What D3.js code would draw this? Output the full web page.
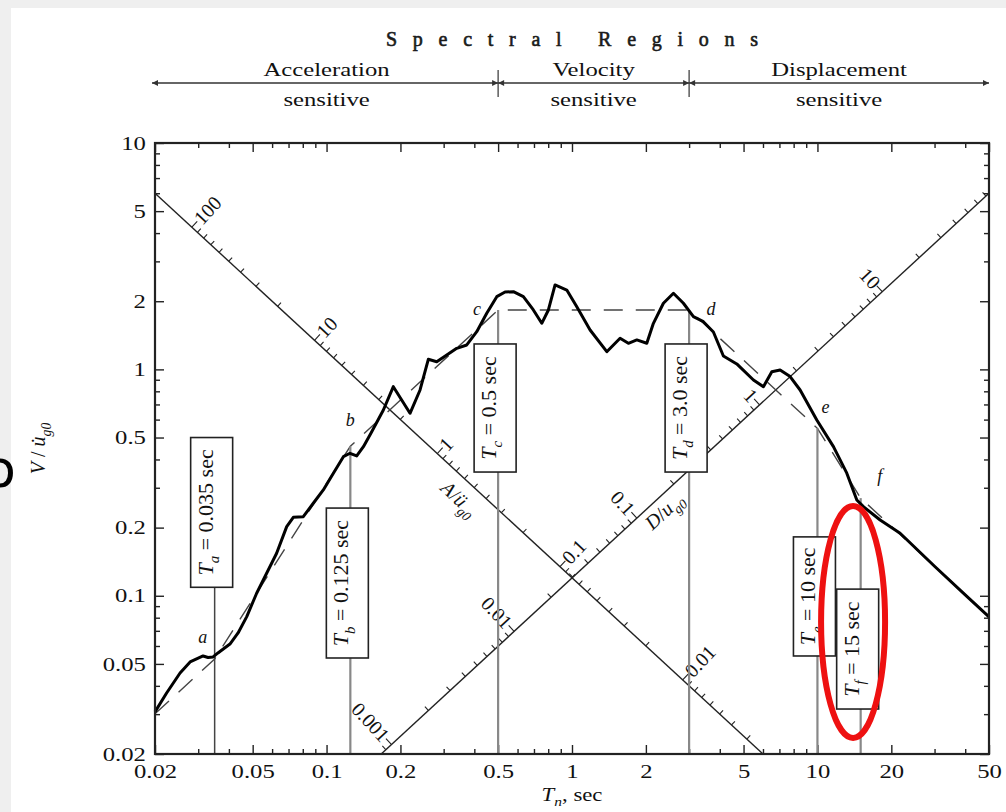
<!DOCTYPE html>
<html><head><meta charset="utf-8">
<script src="https://cdn.jsdelivr.net/npm/d3@7"></script>
<style>
html,body{margin:0;padding:0;background:#efefef;}
svg{display:block;}
text{font-family:"Liberation Serif","Times New Roman",serif;fill:#111;}
</style></head><body>
<svg id="chart" width="1006" height="812"></svg>
<script>
// ---------------- data ----------------
const periods = [0.020,0.0223,0.0253,0.0278,0.0314,0.0329,0.0345,0.0361,0.0404,0.0436,
  0.0473,0.0519,0.0570,0.0626,0.0688,0.0732,0.0804,0.0883,0.0970,0.1066,
  0.1171,0.1246,0.1327,0.1413,0.1518,0.1704,0.1871,0.2188,0.2404,0.2598,
  0.2811,0.3088,0.3392,0.3726,0.4092,0.4494,0.4937,0.5336,0.5770,0.6337,
  0.6960,0.7530,0.8014,0.8531,0.9522,1.046,1.185,1.386,1.570,1.697,
  1.837,2.017,2.146,2.357,2.590,2.844,3.124,3.430,3.768,4.138,
  4.692,5.486,6.024,6.518,7.046,7.738,8.500,9.940,11.62,13.17,
  14.47,15.39,18.01,21.72,30,40,50];
const velocities = [0.0307,0.0372,0.0456,0.0510,0.0542,0.0534,0.0537,0.0559,0.0612,0.0685,
  0.0809,0.1026,0.1257,0.1541,0.2020,0.2222,0.2236,0.2562,0.2934,0.3476,
  0.4115,0.4260,0.4145,0.4556,0.5236,0.6616,0.8387,0.6398,0.8110,1.108,
  1.081,1.158,1.239,1.282,1.467,1.769,2.095,2.197,2.204,2.095,
  1.830,1.598,1.830,2.360,2.242,1.892,1.493,1.197,1.372,1.304,
  1.349,1.304,1.598,1.959,2.168,1.959,1.709,1.624,1.463,1.146,
  1.057,0.898,0.839,0.977,0.994,0.929,0.811,0.598,0.456,0.348,
  0.265,0.2475,0.2162,0.1888,0.135,0.101,0.0806];

const idealT = [0.02, 0.035, 0.125, 0.5, 3.0, 10, 15, 50];
const idealV = [0.0301, 0.0526, 0.4575, 1.83, 1.83, 0.549, 0.27, 0.081];

const cornerNames = ["a","b","c","d","e","f"];
const cornerT = [0.035, 0.125, 0.5, 3.0, 10, 15];
const cornerV = [0.0526, 0.4575, 1.83, 1.83, 0.549, 0.27];
const cornerText = ["0.035","0.125","0.5","3.0","10","15"];
const boxTopV = [0.50, 0.244, 1.295, 1.295, 0.182, 0.107];
const boxBottomV = [0.109, 0.0531, 0.352, 0.352, 0.0542, 0.0316];

const xTickLabels = [0.02,0.05,0.1,0.2,0.5,1,2,5,10,20,50];
const yTickLabels = [0.02,0.05,0.1,0.2,0.5,1,2,5,10];

const accelLabels = [100,10,1,0.1,0.01];
const dispLabels = [0.001,0.01,0.1,1,10];
const accelFactor = 0.665;   // A/ü_g0 = factor · (V/u̇_g0) / T
const dispFactor = 0.247;    // D/u_g0 = factor · T · (V/u̇_g0)
const accelAxisEnds = [[0.02, 6.0], [6.0, 0.02]];
const dispAxisEnds = [[0.167, 0.02], [50, 6.0]];

const regionNames = ["Acceleration","Velocity","Displacement"];
const regionBounds = [0.02, 0.5, 3.0, 50];

// ---------------- layout / style ----------------
const W = 1006, H = 812;
const svg = d3.select("#chart");
const x = d3.scaleLog().domain([0.02, 50]).range([155, 989]);
const y = d3.scaleLog().domain([0.02, 10]).range([754, 143]);
const FONT = '"Liberation Serif","Times New Roman",serif';
const SX = 1.3; // horizontal stretch of the text in the picture

svg.append("rect").attr("x", 11).attr("y", 8).attr("width", W - 11).attr("height", H - 8).attr("fill", "#fff");

const defs = svg.append("defs");
defs.append("marker").attr("id", "arr").attr("viewBox", "0 0 10 10")
  .attr("refX", 10).attr("refY", 5).attr("markerWidth", 8).attr("markerHeight", 6)
  .attr("markerUnits", "userSpaceOnUse").attr("orient", "auto-start-reverse")
  .append("path").attr("d", "M0,0 L10,5 L0,10 z").attr("fill", "#333");

function addRich(textSel, parts, size) {
  let shift = 0;
  parts.forEach(p => {
    const ts = textSel.append("tspan").text(p.t);
    if (p.i) ts.style("font-style", "italic");
    const target = p.sub ? size * 0.28 : 0;
    ts.attr("dy", target - shift); shift = target;
    if (p.sub) ts.style("font-size", (size * 0.68) + "px");
  });
}

// ---------------- header: spectral regions ----------------
const xMid = (x.range()[0] + x.range()[1]) / 2;
svg.append("text").attr("x", xMid).attr("y", 46).attr("text-anchor", "middle")
  .attr("textLength", 372).attr("lengthAdjust", "spacing")
  .style("font-size", "20px").style("fill", "#1a1a1a")
  .style("stroke", "#1a1a1a").style("stroke-width", 0.6)
  .text("Spectral Regions");

const arrowY = 83;
for (let i = 0; i < 3; i++) {
  const x0 = x(regionBounds[i]) - (i === 0 ? 3 : 0);
  const x1 = x(regionBounds[i + 1]);
  svg.append("line").attr("x1", x0).attr("x2", x1).attr("y1", arrowY).attr("y2", arrowY)
    .attr("stroke", "#333").attr("stroke-width", 1.5)
    .attr("marker-start", "url(#arr)").attr("marker-end", "url(#arr)");
  const cx = (x(regionBounds[i]) + x1) / 2;
  svg.append("text").attr("transform", `translate(${cx},76) scale(${SX},1)`)
    .attr("text-anchor", "middle").style("font-size", "19px").text(regionNames[i]);
  svg.append("text").attr("transform", `translate(${cx},106) scale(${SX},1)`)
    .attr("text-anchor", "middle").style("font-size", "19px").text("sensitive");
}
[1, 2].forEach(i => {
  svg.append("line").attr("x1", x(regionBounds[i])).attr("x2", x(regionBounds[i]))
    .attr("y1", arrowY - 13).attr("y2", arrowY + 14).attr("stroke", "#333").attr("stroke-width", 1.2);
});

// ---------------- axes ----------------
const xMinor = x.ticks().filter(t => !xTickLabels.some(v => Math.abs(v - t) < 1e-9));
const yMinor = y.ticks().filter(t => !yTickLabels.some(v => Math.abs(v - t) < 1e-9));
const fmt = d3.format("~g");

function styleAxis(g) {
  g.select(".domain").remove();
  g.selectAll(".tick line").attr("stroke", "#222").attr("stroke-width", 1.4);
  g.attr("font-family", FONT).attr("font-size", 19);
}
const yB = y.range()[0], yT = y.range()[1], xL = x.range()[0], xR = x.range()[1];

svg.append("g").attr("transform", `translate(0,${yB})`)
  .call(d3.axisBottom(x).tickValues(xMinor).tickSizeInner(-5).tickSizeOuter(0).tickFormat("")).call(styleAxis);
const gxb = svg.append("g").attr("transform", `translate(0,${yB})`)
  .call(d3.axisBottom(x).tickValues(xTickLabels).tickSizeInner(-9).tickSizeOuter(0).tickPadding(11).tickFormat(fmt)).call(styleAxis);
gxb.selectAll("text").attr("transform", `scale(${SX},1)`).attr("fill", "#111");

svg.append("g").attr("transform", `translate(0,${yT})`)
  .call(d3.axisTop(x).tickValues(xMinor).tickSizeInner(-5).tickSizeOuter(0).tickFormat("")).call(styleAxis);
svg.append("g").attr("transform", `translate(0,${yT})`)
  .call(d3.axisTop(x).tickValues(xTickLabels).tickSizeInner(-9).tickSizeOuter(0).tickFormat("")).call(styleAxis);

svg.append("g").attr("transform", `translate(${xL},0)`)
  .call(d3.axisLeft(y).tickValues(yMinor).tickSizeInner(-5).tickSizeOuter(0).tickFormat("")).call(styleAxis);
const gyl = svg.append("g").attr("transform", `translate(${xL},0)`)
  .call(d3.axisLeft(y).tickValues(yTickLabels).tickSizeInner(-9).tickSizeOuter(0).tickPadding(7).tickFormat(fmt)).call(styleAxis);
gyl.selectAll("text").attr("transform", `scale(${SX},1)`).attr("x", -7).attr("fill", "#111");

svg.append("g").attr("transform", `translate(${xR},0)`)
  .call(d3.axisRight(y).tickValues(yMinor).tickSizeInner(-5).tickSizeOuter(0).tickFormat("")).call(styleAxis);
svg.append("g").attr("transform", `translate(${xR},0)`)
  .call(d3.axisRight(y).tickValues(yTickLabels).tickSizeInner(-9).tickSizeOuter(0).tickFormat("")).call(styleAxis);

// axis titles
const xt = svg.append("text").attr("transform", `translate(${xMid},801) scale(1.2,1)`)
  .attr("text-anchor", "middle").style("font-size", "19px");
addRich(xt, [{t: "T", i: true}, {t: "n", i: true, sub: true}, {t: ", sec"}], 19);
const yt = svg.append("text").attr("transform", `translate(45,${(yB + yT) / 2}) rotate(-90)`)
  .attr("text-anchor", "middle").style("font-size", "20px");
addRich(yt, [{t: "V", i: true}, {t: " / "}, {t: "u\u0307", i: true}, {t: "g0", i: true, sub: true}], 20);

// ---------------- diagonal (tripartite) axes ----------------
const multiples = [];
for (let k = -4; k <= 3; k++) for (let m = 1; m <= 9; m++) multiples.push(+(m * Math.pow(10, k)).toPrecision(3));

function drawDiag(ends, pointOf, labels, labelSide) {
  const p0 = [x(ends[0][0]), y(ends[0][1])], p1 = [x(ends[1][0]), y(ends[1][1])];
  svg.append("line").attr("x1", p0[0]).attr("y1", p0[1]).attr("x2", p1[0]).attr("y2", p1[1])
    .attr("stroke", "#222").attr("stroke-width", 1.4);
  const dx = p1[0] - p0[0], dy = p1[1] - p0[1], len = Math.hypot(dx, dy);
  const ux = dx / len, uy = dy / len;
  const nx = uy, ny = -ux;   // upper-side normal
  const tMin = Math.min(ends[0][0], ends[1][0]), tMax = Math.max(ends[0][0], ends[1][0]);
  multiples.forEach(v => {
    const [T, V] = pointOf(v);
    if (T < tMin * 1.001 || T > tMax * 0.999) return;
    const px = x(T), py = y(V);
    const major = labels.some(l => Math.abs(l - v) / l < 1e-6);
    const L = major ? 8 : 5;
    svg.append("line").attr("x1", px).attr("y1", py).attr("x2", px + nx * L).attr("y2", py + ny * L)
      .attr("stroke", "#222").attr("stroke-width", 1.1);
  });
  const ang = Math.atan2(ny, nx) * 180 / Math.PI;
  labels.forEach(v => {
    const [T, V] = pointOf(v);
    const px = x(T) + nx * 8, py = y(V) + ny * 8;
    const rot = labelSide > 0 ? ang : ang + 180;
    svg.append("text").attr("transform", `translate(${px},${py}) rotate(${rot})`)
      .attr("text-anchor", labelSide > 0 ? "start" : "end").attr("dy", "0.35em")
      .style("font-size", "20px").text(fmt(v));
  });
  return {ux, uy, nx, ny};
}
const cA = accelAxisEnds[0][0] * accelAxisEnds[0][1];
const accelPoint = a => { const V = Math.sqrt(a * cA / accelFactor); return [cA / V, V]; };
const cD = dispAxisEnds[1][1] / dispAxisEnds[1][0];
const dispPoint = d => { const T = Math.sqrt(d / (dispFactor * cD)); return [T, cD * T]; };
const dirA = drawDiag(accelAxisEnds, accelPoint, accelLabels, 1);
const dirD = drawDiag(dispAxisEnds, dispPoint, dispLabels, -1);

// diagonal axis names
{
  const T = 0.39, V = cA / T;
  const px = x(T) - dirA.nx * 25, py = y(V) - dirA.ny * 25;
  const t = svg.append("text").attr("transform", `translate(${px},${py}) rotate(${Math.atan2(dirA.uy, dirA.ux) * 180 / Math.PI})`)
    .attr("text-anchor", "middle").attr("dy", "0.35em").style("font-size", "20px");
  addRich(t, [{t: "A", i: true}, {t: "/"}, {t: "ü", i: true}, {t: "g0", i: true, sub: true}], 20);
}
{
  const T = 2.18, V = cD * T;
  const px = x(T) - dirD.nx * 20, py = y(V) - dirD.ny * 20;
  const t = svg.append("text").attr("transform", `translate(${px},${py}) rotate(${Math.atan2(dirD.uy, dirD.ux) * 180 / Math.PI})`)
    .attr("text-anchor", "middle").attr("dy", "0.35em").style("font-size", "20px");
  addRich(t, [{t: "D", i: true}, {t: "/"}, {t: "u", i: true}, {t: "g0", i: true, sub: true}], 20);
}

// ---------------- idealized spectrum (dashed) ----------------
const line = d3.line().x(d => x(d[0])).y(d => y(d[1]));
svg.append("path").attr("d", line(idealT.map((t, i) => [t, idealV[i]])))
  .attr("fill", "none").attr("stroke", "#444").attr("stroke-width", 1.4).attr("stroke-dasharray", "19,13");

// ---------------- vertical period lines and boxes ----------------
cornerT.forEach((T, i) => {
  const px = x(T);
  const top = Math.min(y(cornerV[i]), y(boxTopV[i]));
  svg.append("line").attr("x1", px).attr("x2", px).attr("y1", yB).attr("y2", top)
    .attr("stroke", i === 0 ? "#444" : "#888").attr("stroke-width", i === 0 ? 1.5 : 2.2);
});
cornerT.forEach((T, i) => {
  const px = x(T);
  const bx = px - 24, bw = 42;
  const by = y(boxTopV[i]), bh = y(boxBottomV[i]) - by;
  svg.append("rect").attr("x", bx).attr("y", by).attr("width", bw).attr("height", bh)
    .attr("fill", "#fff").attr("stroke", "#222").attr("stroke-width", 1.6);
  const t = svg.append("text").attr("transform", `translate(${bx + bw / 2 + 1},${by + bh / 2}) rotate(-90)`)
    .attr("text-anchor", "middle").attr("dy", "0.33em").style("font-size", "22px");
  addRich(t, [{t: "T", i: true}, {t: cornerNames[i], i: true, sub: true}, {t: " = " + cornerText[i] + " sec"}], 22);
});

// ---------------- response spectrum ----------------
svg.append("path").attr("d", line(periods.map((t, i) => [t, velocities[i]])))
  .attr("fill", "none").attr("stroke", "#000").attr("stroke-width", 3).attr("stroke-linejoin", "round");

// corner letters
const letterOffsets = [[-12, -16], [0, -20], [-21, 5], [22, 5], [8, -15], [19, -16]];
cornerT.forEach((T, i) => {
  svg.append("text").attr("x", x(T) + letterOffsets[i][0]).attr("y", y(cornerV[i]) + letterOffsets[i][1])
    .attr("text-anchor", "middle").style("font-size", "18px").style("font-style", "italic").text(cornerNames[i]);
});

// ---------------- frame ----------------
svg.append("rect").attr("x", xL).attr("y", yT).attr("width", xR - xL).attr("height", yB - yT)
  .attr("fill", "none").attr("stroke", "#222").attr("stroke-width", 2.2);

// ---------------- annotation ellipse ----------------
svg.append("ellipse").attr("cx", x(13.97)).attr("cy", y(0.0766)).attr("rx", 32).attr("ry", 116)
  .attr("fill", "none").attr("stroke", "#ee1111").attr("stroke-width", 6);

// cut-off glyph at the left edge
svg.append("text").attr("x", -16).attr("y", 487).style("font-family", '"DejaVu Sans",sans-serif')
  .style("font-size", "52px").style("fill", "#000").text("o");
</script>
</body></html>
